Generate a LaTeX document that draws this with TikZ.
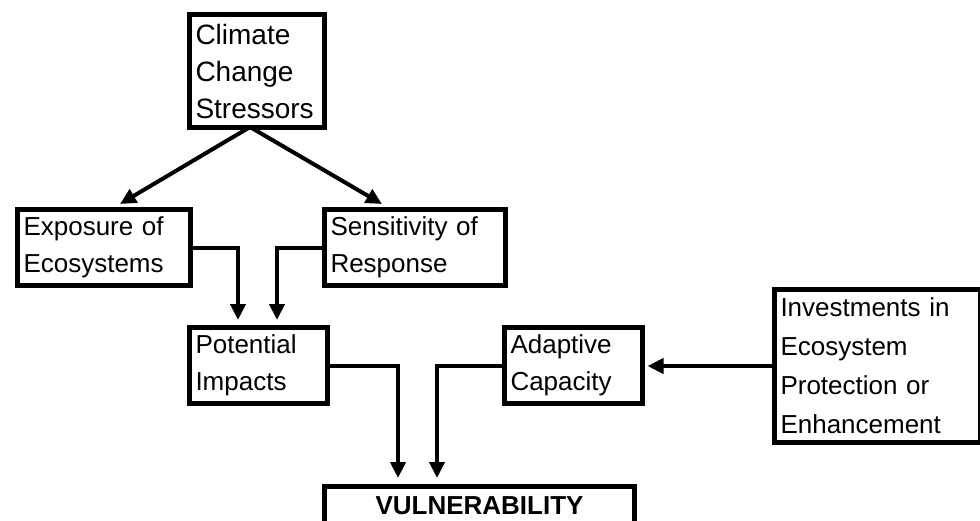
\documentclass[tikz,border=0pt]{standalone}
\usepackage{fontspec}
\setmainfont{Liberation Sans}
\usetikzlibrary{arrows.meta}
\newcommand{\boxfont}{\fontsize{26}{37}\selectfont}

\tikzset{
  stage/.style={draw, line width=5pt, anchor=north west, align=left,
    inner xsep=6pt, inner ysep=0pt, font=\boxfont},
  link/.style={line width=4pt, -{Triangle[length=16pt,width=15pt]}}
}

\begin{document}
\begin{tikzpicture}[x=1pt,y=-1pt]
            \useasboundingbox (0,0) rectangle (980,520);
            \clip (0,0) rectangle (980,520);
            \begin{scope}
              \node[stage, text width=123pt, minimum height=113pt, font=\fontsize{28}{37}\selectfont]
                (clim) at (187,12) {Climate\\Change\\Stressors};
              \node[stage, text width=161pt, minimum height=76pt] (expo) at (15,207) {Exposure of\\Ecosystems};
              \node[stage, text width=169pt, minimum height=76pt] (sens) at (322,207) {Sensitivity of\\Response};
              \node[stage, text width=126pt, minimum height=76pt] (pot) at (187,325) {Potential\\Impacts};
              \node[stage, text width=126pt, minimum height=76pt] (adap) at (502,325) {Adaptive\\Capacity};
              \node[stage, text width=194pt, minimum height=153pt, font=\fontsize{26}{39}\selectfont]
                (inv) at (772,287) {Investments in\\Ecosystem\\Protection or\\Enhancement};
              \node[stage, text width=298pt, align=center, inner ysep=3pt, text height=25pt, text depth=40pt,
                font=\boxfont\bfseries] (vuln) at (322,484) {VULNERABILITY};
            \end{scope}
            \coordinate (fork) at (250,127);
            \coordinate (expoTop) at (120,204);
            \coordinate (sensTop) at (382,204);
            \coordinate (potA) at (238,320);
            \coordinate (potB) at (277,320);
            \coordinate (vulnA) at (398,478);
            \coordinate (vulnB) at (437,478);
            \begin{scope}[link]
              \draw (fork) -- (expoTop);
              \draw (fork) -- (sensTop);
              \draw (expo.east) -| (potA);
              \draw (sens.west) -| (potB);
              \draw (pot.east) -| (vulnA);
              \draw (adap.west) -| (vulnB);
              \draw[shorten >=2.5pt] (inv.west) -- (inv.west -| adap.east);
            \end{scope}
\end{tikzpicture}
\end{document}
